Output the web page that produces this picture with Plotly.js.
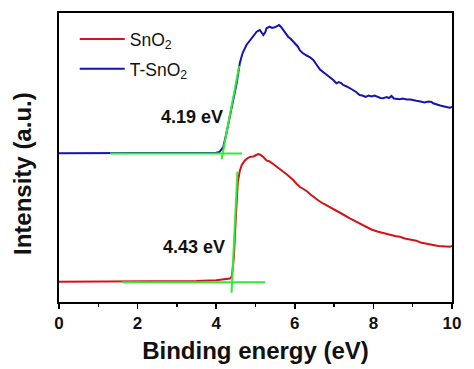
<!DOCTYPE html>
<html>
<head>
<meta charset="utf-8">
<script src="https://cdn.plot.ly/plotly-3.0.1.min.js"></script>
<style>html,body{margin:0;padding:0;background:#fff;}#chart{width:474px;height:369px;}</style>
</head>
<body>
<div id="chart"></div>
<script>
// SnO2 (red) spectrum
const snoX = [0,1,2,3,3.5,4.0,4.2,4.35,4.4,4.45,4.5,4.55,4.6,4.65,4.72,4.8,4.88,4.95,5.02,5.07,5.12,5.2,5.28,5.36,5.45,5.54,5.62,5.7,5.8,5.87,5.96,6.05,6.13,6.22,6.3,6.4,6.5,6.6,6.72,6.85,6.97,7.1,7.23,7.4,7.55,7.7,7.82,7.95,8.1,8.25,8.4,8.55,8.67,8.8,8.95,9.09,9.2,9.35,9.52,9.65,9.8,9.94,10];
const snoY = [20.3,20.3,20.5,20.8,21,21.7,22.3,23.5,26,45,85,120,131,137,141,144,145.3,145.5,147,148,147.3,145,141.5,140.5,138,135.5,133.5,130.5,127.5,125.5,122,118,115,113,111,107.5,104,101.5,98.5,95.5,93,90,87.5,83.7,80.5,77.5,75.3,72.5,70.5,68.7,67.5,66,65.3,63.5,62.5,61.3,59.5,58,57,56,55.5,55.3,56];
// T-SnO2 (blue) spectrum
const tsnoX = [0,1,2,3,3.5,4.0,4.08,4.13,4.18,4.26,4.39,4.52,4.6,4.67,4.77,4.9,4.97,5.03,5.11,5.16,5.2,5.25,5.28,5.36,5.42,5.49,5.55,5.6,5.65,5.7,5.77,5.83,5.9,5.96,6.02,6.08,6.13,6.2,6.3,6.38,6.47,6.55,6.64,6.72,6.8,6.9,6.98,7.06,7.12,7.18,7.23,7.32,7.4,7.48,7.56,7.65,7.72,7.8,7.88,7.95,8.03,8.1,8.18,8.25,8.33,8.4,8.46,8.52,8.6,8.67,8.75,8.85,8.95,9.02,9.09,9.2,9.3,9.4,9.48,9.52,9.6,9.7,9.8,9.88,9.94,10];
const tsnoY = [148.7,148.7,148.8,149,149,149.3,150,152,155,168.7,192,218.7,238.7,248.7,257,263.7,267.5,270.3,272,269,267,270,273.7,275.3,274,274.7,276,277,275,272,268,265.3,263,260.3,258,255.3,251.5,249,246.5,245,242,237,232.5,230,227.5,225.3,222,218.7,220,219,217,215.5,214,212,210,207,206.5,205,206.5,205.5,206.5,205,204,203.7,205,204,206,203.5,203,202.7,203.5,202.5,202.5,201.5,201.3,200.5,199.5,200.5,200,198.7,197.5,196.5,195.5,194.5,194.2,195];
// Onset fit lines (green)
const tsnoBaseX = [1.3, 4.66], tsnoBaseY = [148.5, 148.5];
const tsnoTanX = [4.138, 4.585], tsnoTanY = [142.7, 236.3];
const snoBaseX = [1.59, 5.25], snoBaseY = [19.7, 19.7];
const snoTanX = [4.39, 4.54], snoTanY = [9.3, 130.3];
// Labels
const onsetLabels = ["4.19 eV", "4.43 eV"];
const onsetLabelX = [3.374, 3.425];
const onsetLabelY = [185.3, 55];
const xTicks = [0, 2, 4, 6, 8, 10];

const font = "Arial, 'Liberation Sans', sans-serif";
const green = "rgb(50,235,50)";
const red = "rgb(210,20,25)";
const blue = "rgb(20,20,175)";

const traces = [
  {x: snoX, y: snoY, mode: "lines", name: "SnO<sub>2</sub>", line: {color: red, width: 2}, legendgroup: "a"},
  {x: tsnoX, y: tsnoY, mode: "lines", name: "T-SnO<sub>2</sub>", line: {color: blue, width: 2}, legendgroup: "b"},
  {x: tsnoBaseX, y: tsnoBaseY, mode: "lines", line: {color: green, width: 2}, showlegend: false},
  {x: tsnoTanX, y: tsnoTanY, mode: "lines", line: {color: green, width: 2}, showlegend: false},
  {x: snoBaseX, y: snoBaseY, mode: "lines", line: {color: green, width: 2}, showlegend: false},
  {x: snoTanX, y: snoTanY, mode: "lines", line: {color: green, width: 2}, showlegend: false}
];

const annotations = onsetLabels.map((t, i) => ({
  x: onsetLabelX[i], y: onsetLabelY[i], xref: "x", yref: "y", text: t, showarrow: false,
  font: {family: font, size: 18, weight: "bold", color: "#111"}, xanchor: "center", yanchor: "middle"
}));
annotations.push({
  x: -0.0916, y: 0.443, xref: "paper", yref: "paper", text: "Intensity (a.u.)", textangle: -90,
  showarrow: false, font: {family: font, size: 24, weight: "bold", color: "#111"}, xanchor: "center", yanchor: "middle"
});

const layout = {
  width: 474, height: 369,
  margin: {l: 59, r: 22, t: 13, b: 67},
  paper_bgcolor: "#fff", plot_bgcolor: "#fff",
  showlegend: true,
  legend: {x: 0.04, y: 0.972, xanchor: "left", yanchor: "top", font: {family: font, size: 17.5, color: "#111"},
           bgcolor: "rgba(0,0,0,0)", itemwidth: 45, tracegroupgap: 4},
  xaxis: {
    range: [0, 10], tickvals: xTicks, ticktext: xTicks.map(String), ticks: "outside", ticklen: 5, tickwidth: 1.5, tickcolor: "#000",
    minor: {dtick: 1, ticks: "outside", ticklen: 3, tickwidth: 1.5, tickcolor: "#000"},
    showline: true, linewidth: 2, linecolor: "#000", mirror: true, showgrid: false, zeroline: false,
    tickfont: {family: font, size: 17, weight: "bold", color: "#111"},
    title: {text: "Binding energy (eV)", font: {family: font, size: 24, weight: "bold", color: "#111"}, standoff: 10}
  },
  yaxis: {
    range: [0, 289], showticklabels: false, ticks: "", showline: true, linewidth: 2, linecolor: "#000", mirror: true,
    showgrid: false, zeroline: false
  },
  annotations: annotations
};

Plotly.newPlot("chart", traces, layout, {displayModeBar: false, staticPlot: true});
</script>
</body>
</html>
